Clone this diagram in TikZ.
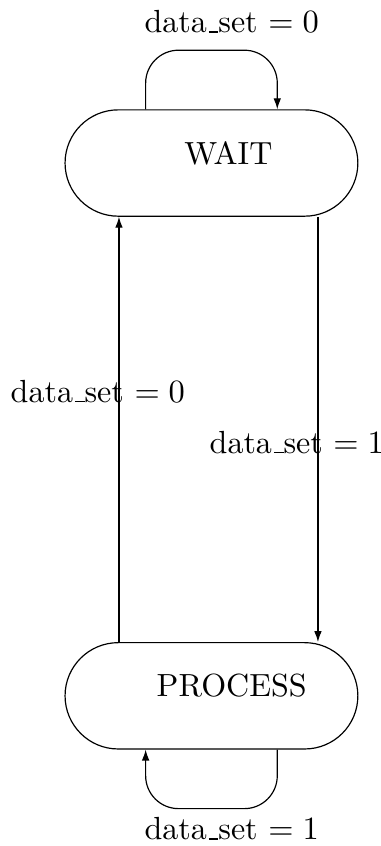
\documentclass[tikz,border=0pt]{standalone}
\usepackage{tikz}
\usetikzlibrary{positioning,arrows.meta}
\newcommand{\usc}{\leavevmode\kern.06em\vbox{\hrule width.3em}}

\begin{document}
\begin{tikzpicture}[node distance=5.04cm, font=\fontsize{10.8}{13}\selectfont,
  state/.style={draw, rounded corners=0.63cm, minimum width=3.47cm, minimum height=1.26cm},
  arr/.style={-{Latex[length=1.3mm, width=0.9mm]}},
  loop/.style={arr, rounded corners=0.39cm}]
\useasboundingbox (-2.506,1.932) rectangle (2.009,-8.094);
\node[state, label={[shift={(0.2,0.11)}]center:WAIT}] (wait) at (0,0) {};
\node[state, below=of wait, label={[shift={(0.24,0.12)}]center:PROCESS}] (process) {};
% transitions between the two states
\draw[arr] ([xshift=-1.096cm]process.north) -- node[pos=0.59, xshift=-0.25cm]{data\usc set $=0$} ([xshift=-1.096cm]wait.south);
\draw[arr] ([xshift=1.262cm]wait.south) -- node[pos=0.53, xshift=-0.25cm]{data\usc set $=1$} ([xshift=1.262cm]process.north);
% self loops
\draw[loop] ([xshift=-0.78cm]wait.north) -- ++(0,0.7) -| node[pos=0.25, above=0.8mm, xshift=0.24cm]{data\usc set $=0$} ([xshift=0.78cm]wait.north);
\draw[loop] ([xshift=0.78cm]process.south) -- ++(0,-0.7) -| node[pos=0.25, below=-0.2mm, xshift=0.24cm]{data\usc set $=1$} ([xshift=-0.78cm]process.south);
\end{tikzpicture}
\end{document}
